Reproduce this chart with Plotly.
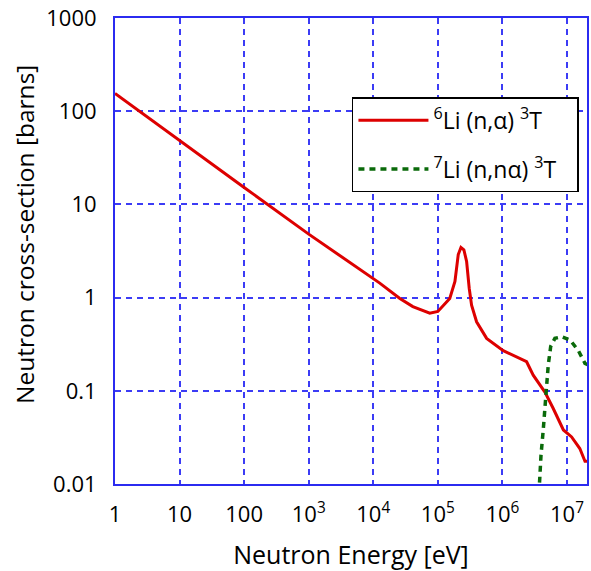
import plotly.graph_objects as go

# Li-6 (n,alpha) T cross-section
li6_energy = [1, 10, 100, 1000, 1.26e4, 2.58e4, 4.1e4, 7.5e4, 1.0e5, 1.53e5, 1.84e5, 2.07e5,
              2.28e5, 2.53e5, 2.79e5, 3.06e5, 3.33e5, 3.98e5, 5.7e5, 1.03e6, 1.85e6, 2.37e6,
              3.0e6, 4.55e6, 6.1e6, 8.8e6, 1.18e7, 1.58e7, 1.9e7, 2.1e7]
li6_sigma = [155, 48, 15.2, 4.8, 1.43, 0.98, 0.80, 0.68, 0.71, 0.98, 1.49, 2.9,
             3.45, 3.26, 2.44, 1.26, 0.83, 0.55, 0.365, 0.27, 0.223, 0.205,
             0.147, 0.097, 0.065, 0.038, 0.032, 0.024, 0.0175, 0.0175]

# Li-7 (n,n alpha) T cross-section
li7_energy = [3.6e6, 3.72e6, 3.96e6, 4.3e6, 4.68e6, 5.13e6, 5.6e6, 6.5e6, 8.3e6, 1.12e7, 1.5e7, 1.9e7, 2.1e7]
li7_sigma = [0.006, 0.01, 0.0204, 0.039, 0.083, 0.19, 0.30, 0.365, 0.38, 0.35, 0.27, 0.197, 0.19]

x_tickvals = [1, 10, 100, 1e3, 1e4, 1e5, 1e6, 1e7]
x_ticktext = ["1", "10", "100", "10<sup>3</sup>", "10<sup>4</sup>", "10<sup>5</sup>",
              "10<sup>6</sup>", "10<sup>7</sup>"]
y_tickvals = [0.01, 0.1, 1, 10, 100, 1000]
y_ticktext = ["0.01", "0.1", "1", "10", "100", "1000"]

legend_names = ["<sup>6</sup>Li (n,α) <sup>3</sup>T&nbsp;&nbsp;&nbsp;&nbsp;&nbsp;",
                "<sup>7</sup>Li (n,nα) <sup>3</sup>T&nbsp;&nbsp;"]
x_title = "Neutron Energy [eV]"
y_title = "Neutron cross-section [barns]"

FONT = "Open Sans"
BLUE = "#2b2bf0"
GRID = "#3c3cf5"

fig = go.Figure()
fig.add_trace(go.Scatter(
    x=li6_energy, y=li6_sigma, mode="lines",
    name=legend_names[0], legendgroup="a",
    line=dict(color="#dd0000", width=3),
))
fig.add_trace(go.Scatter(
    x=li7_energy, y=li7_sigma, mode="lines",
    name=legend_names[1], legendgroup="b",
    line=dict(color="#0a6a0a", width=3.5, dash="6px,5px"),
))

fig.update_layout(
    width=591, height=571,
    margin=dict(l=115, r=2, t=14, b=87),
    paper_bgcolor="white", plot_bgcolor="white",
    font=dict(family=FONT, size=22, color="black"),
    showlegend=True,
    legend=dict(
        x=0.502, y=0.83, xanchor="left", yanchor="top",
        bgcolor="white", bordercolor="black", borderwidth=1.5,
        font=dict(family=FONT, size=23, color="black"),
        tracegroupgap=16, itemwidth=70,
    ),
    annotations=[dict(
        text=y_title, textangle=-90, showarrow=False,
        xref="paper", yref="paper", x=-0.192, y=0.535,
        xanchor="center", yanchor="middle",
        font=dict(family=FONT, size=24.5, color="black"),
    )],
)
fig.update_xaxes(
    type="log", range=[0, 7.31],
    tickvals=x_tickvals, ticktext=x_ticktext,
    showline=True, mirror=True, linecolor=BLUE, linewidth=2,
    showgrid=True, gridcolor=GRID, gridwidth=1.8, griddash="6px,5px",
    ticks="", ticklabelstandoff=10, ticklabeloverflow="allow",
    tickfont=dict(family=FONT, size=22),
    title=dict(text=x_title, font=dict(family=FONT, size=25), standoff=21),
)
fig.update_yaxes(
    type="log", range=[-2, 3],
    tickvals=y_tickvals, ticktext=y_ticktext,
    showline=True, mirror=True, linecolor=BLUE, linewidth=2,
    showgrid=True, gridcolor=GRID, gridwidth=1.8, griddash="6px,5px",
    ticks="", ticklabelstandoff=12, ticklabeloverflow="allow",
    tickfont=dict(family=FONT, size=22),
)

fig.write_html("out.html")
